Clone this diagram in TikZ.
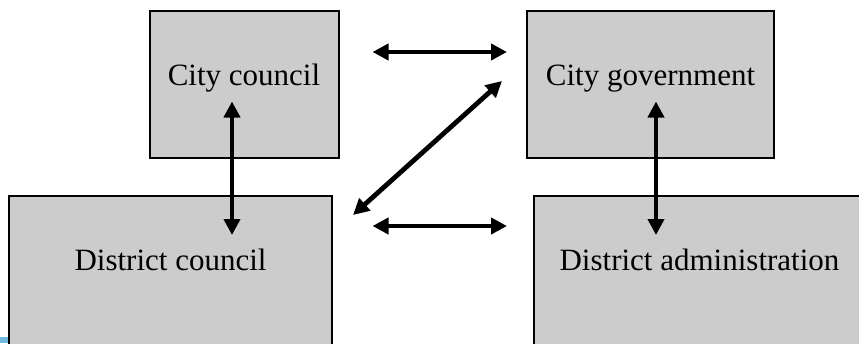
\documentclass[tikz,border=0pt]{standalone}
\usepackage{fontspec}
\setmainfont{Liberation Serif}
\usetikzlibrary{arrows.meta}
\definecolor{boxgray}{RGB}{204,204,204}
\definecolor{cornerblue}{RGB}{110,185,220}
\begin{document}
\begin{tikzpicture}[x=1pt,y=-1pt,
  box/.style={draw=black,line width=1.5pt,fill=boxgray},
  lbl/.style={anchor=base,inner sep=0pt,font=\fontsize{31}{36}\selectfont},
  conn/.style={line width=4.8pt,{Triangle[length=16pt,width=16pt]}-{Triangle[length=16pt,width=16pt]}}]
\useasboundingbox (0,0) rectangle (859,343);
\clip (0,0) rectangle (859,343);
\fill[white] (0,0) rectangle (859,343);
% boxes
\draw[box] (150,11) rectangle (339,158);
\draw[box] (527,11) rectangle (774,158);
\draw[box] (9,196) rectangle (332,370);
\draw[box] (534,196) rectangle (880,370);
\fill[cornerblue] (0,337) rectangle (8,343);
% labels
\node[lbl] (cc) at (244,85) {City council};
\node[lbl] (cg) at (650.5,85) {City government};
\node[lbl] (dc) at (170.5,270) {District council};
\node[lbl] (da) at (699.5,270) {District administration};
% arrow endpoints
\coordinate (t1) at (372.5,52);
\coordinate (t2) at (507,52);
\coordinate (b1) at (372.5,226);
\coordinate (b2) at (507,226);
\coordinate (d1) at (353,215);
\coordinate (d2) at (502,81);
\coordinate (l1) at (232,101.5);
\coordinate (l2) at (232,235);
\coordinate (r1) at (656,101.5);
\coordinate (r2) at (656,235);
\draw[conn] (t1) -- (t2);
\draw[conn] (b1) -- (b2);
\draw[conn] (d1) -- (d2);
\draw[conn] (l1) -- (l2);
\draw[conn] (r1) -- (r2);
\end{tikzpicture}
\end{document}
